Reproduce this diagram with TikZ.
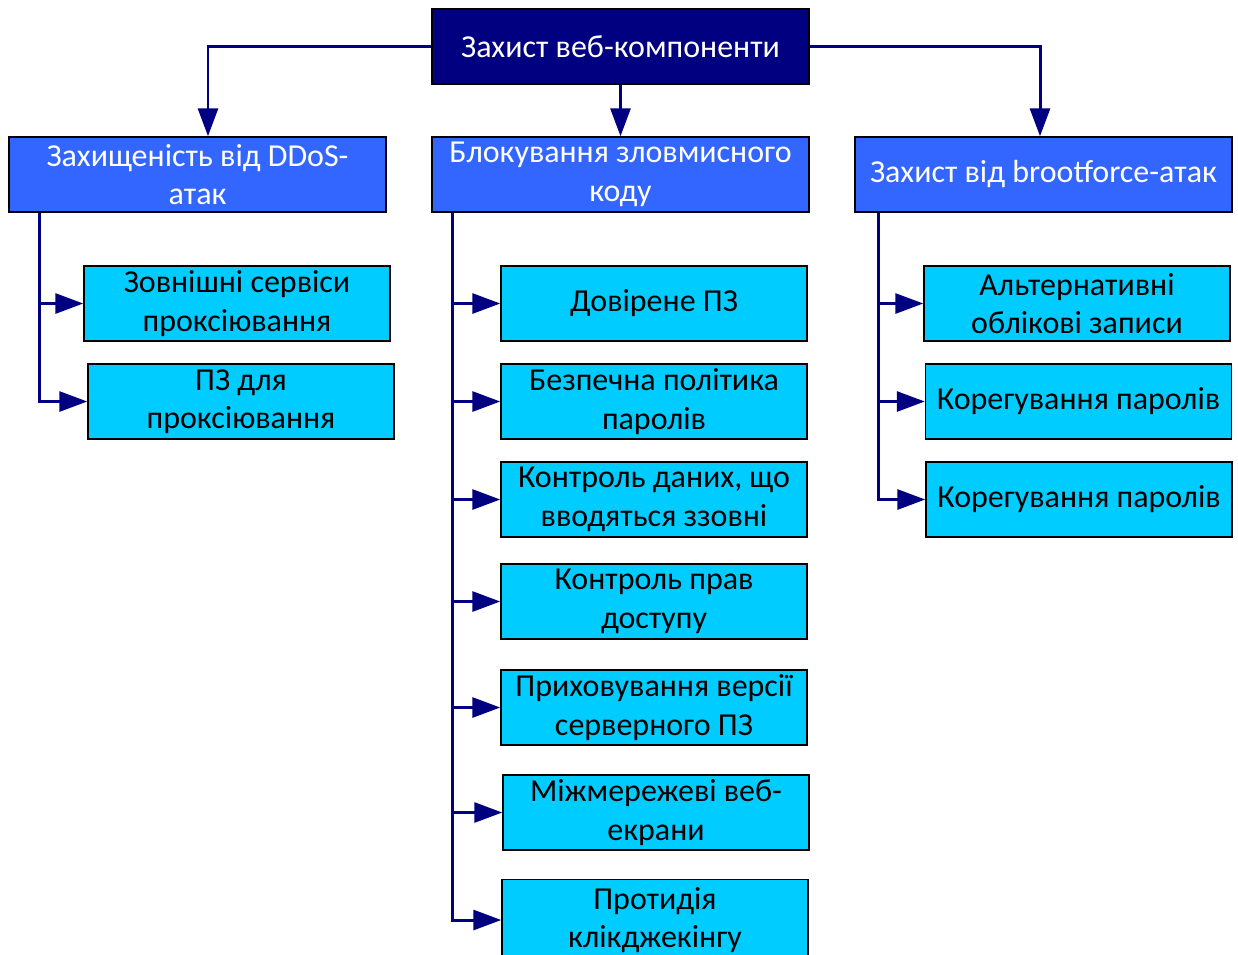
\documentclass[tikz,border=0pt]{standalone}
\usepackage{fontspec}
\setmainfont{Carlito}
\usetikzlibrary{arrows.meta}
\definecolor{rootfill}{HTML}{000080}
\definecolor{groupfill}{HTML}{3366FF}
\definecolor{itemfill}{HTML}{00CCFF}
\definecolor{linkcol}{HTML}{000080}
\tikzset{
  root box/.style={draw=black, line width=0.85pt, fill=rootfill, text=white,
    minimum width=7.54cm, minimum height=1.5cm, inner sep=2pt, align=center},
  group box/.style={root box, fill=groupfill},
  item box/.style={root box, fill=itemfill, text=black, minimum width=6.12cm},
  link/.style={draw=linkcol, line width=1.7pt, -{Triangle[length=0.56cm, width=0.4cm]}},
}

\begin{document}
\begin{tikzpicture}[x=0.02cm, y=-0.02cm,
  every node/.style={font=\fontsize{18.2}{21.8}\selectfont}]
  \useasboundingbox (0,0) rectangle (1238,954);
  \clip (0,0) rectangle (1238,954);
  % top level
  \node[root box]  (root)  at (620.5,46.5)  {Захист веб-компоненти};
  \node[group box] (ddos)  at (197.5,174.5) {Захищеність від DDoS-\\атак};
  \node[group box] (block) at (620.5,174.5) {Блокування зловмисного\\коду};
  \node[group box] (brute) at (1043.5,174.5) {Захист від brootforce-атак};
  \draw[link] (root.west)  -| ([xshift=0.21cm]ddos.north);
  \draw[link] (root.south) -- (block.north);
  \draw[link] (root.east)  -| ([xshift=-0.07cm]brute.north);
  % DDoS
  \node[item box] (extproxy) at (237,303.5) {Зовнішні сервіси\\проксіювання};
  \node[item box] (swproxy)  at (241,401.5) {ПЗ для\\проксіювання};
  \coordinate (ddos trunk) at ([xshift=0.62cm]ddos.south west);
  \foreach \item in {extproxy,swproxy}{\draw[link] (ddos trunk) |- (\item.west);}
  % malicious code
  \node[item box] (trusted)  at (654,303.5) {Довірене ПЗ};
  \node[item box] (policy)   at (654,401.5) {Безпечна політика\\паролів};
  \node[item box] (input)    at (654,499.5) {Контроль даних, що\\вводяться ззовні};
  \node[item box] (rights)   at (654,601.5) {Контроль прав\\доступу};
  \node[item box] (version)  at (654,707.5) {Приховування версії\\серверного ПЗ};
  \node[item box] (firewall) at (656,812.5) {Міжмережеві веб-\\екрани};
  \node[item box, minimum height=1.62cm] (clickjack) at (655,920) {Протидія\\клікджекінгу};
  \coordinate (block trunk) at ([xshift=0.42cm]block.south west);
  \foreach \item in {trusted,policy,input,rights,version,firewall,clickjack}{
    \draw[link] (block trunk) |- (\item.west);}
  % brootforce
  \node[item box] (altacc) at (1077,303.5)   {Альтернативні\\облікові записи};
  \node[item box] (pwfixa) at (1078.5,401.5) {Корегування паролів};
  \node[item box] (pwfixb) at (1079,499.5)   {Корегування паролів};
  \coordinate (brute trunk) at ([xshift=0.48cm]brute.south west);
  \foreach \item in {altacc,pwfixa,pwfixb}{\draw[link] (brute trunk) |- (\item.west);}
\end{tikzpicture}
\end{document}
